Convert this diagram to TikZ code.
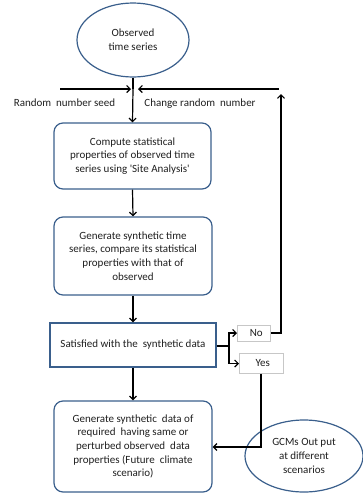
\documentclass[tikz,border=0pt]{standalone}
\usepackage{fontspec}
\setmainfont{Carlito}
\usetikzlibrary{shapes.geometric,arrows.meta}
\definecolor{boxline}{RGB}{58,95,140}
\definecolor{tagline}{gray}{0.78}
\definecolor{txt}{gray}{0.12}
\tikzset{
  txtf/.style={font=\fontsize{11}{13.7}\selectfont,text=txt},
  oval/.style={draw=boxline,ellipse,line width=1.2pt,fill=white,txtf,align=center,inner sep=0pt},
  rbox/.style={draw=boxline,rectangle,rounded corners=9pt,line width=1.2pt,txtf,align=center,inner sep=0pt},
  sbox/.style={draw=boxline,rectangle,line width=1.2pt,txtf,align=center,inner sep=0pt},
  tag/.style={draw=tagline,rectangle,line width=0.6pt,fill=white,txtf,anchor=west,inner sep=0pt},
  flow/.style={draw=black,line width=1.2pt,-{Straight Barb[length=3.5pt,width=7pt,line width=1.2pt]}},
  plain/.style={draw=black,line width=1.2pt},
}
\begin{document}
\begin{tikzpicture}[x=1pt,y=1pt]
  \useasboundingbox (0,0) rectangle (363,-493);
  % nodes
  \node[oval,minimum width=112,minimum height=74] (obs) at (133,-40) {Observed\\time series};
  \node[rbox,minimum width=157,minimum height=66] (stat) at (132.5,-156)
    {Compute statistical\\properties of observed time\\series using \textquotesingle Site Analysis\textquotesingle};
  \node[rbox,minimum width=158,minimum height=78] (gen) at (133,-256)
    {Generate synthetic time\\series, compare its statistical\\properties with that of\\observed};
  \node[sbox,minimum width=166,minimum height=44] (sat) at (133,-345)
    {Satisfied with the\ \ synthetic data};
  \node[rbox,minimum width=158,minimum height=91] (fut) at (133,-446.5)
    {Generate synthetic\ \ data of\\required\ \ having same or\\perturbed observed\ \ data\\properties (Future\ \ climate\\scenario)};
  \node[tag,minimum width=33,minimum height=16] (no) at (237,-333) {\hspace*{5pt}No\hfill};
  \node[tag,minimum width=44,minimum height=20] (yes) at (239,-363.5) {\hspace*{3pt}Yes\hfill};
  \node[oval,minimum width=118,minimum height=72] (gcm) at (304,-456) {GCMs Out put\\at different\\scenarios};
  % labels
  \node[txtf] (seedlab) at (64.5,-103) {Random\ \ number seed};
  \node[txtf] (chglab) at (200,-104) {Change random\ \ number};
  % helper points
  \coordinate (mid) at (133,-89);
  \coordinate (seed) at (60,-89);
  \coordinate (back) at (279,-89);
  \coordinate (up) at (281,-333);
  \coordinate (upend) at (281,-94);
  \coordinate (split) at (229,-346);
  \coordinate (down) at (261,-447);
  % connectors
  \draw[plain] (obs.south) -- (mid);
  \draw[flow] (seed) -- ([xshift=-2pt]mid);
  \draw[flow] (back) -- ([xshift=5pt]mid);
  \draw[flow] (mid) -- (stat.north);
  \draw[flow] (stat.south) -- (gen.north);
  \draw[flow] (gen.south) -- (sat.north);
  \draw[flow] (sat.south) -- (fut.north);
  \draw[plain] (sat.east |- split) -- (split);
  \draw[flow] (split) |- (no.west);
  \draw[flow] (split) |- (yes.west);
  \draw[flow] (no.east) -- (up) -- (upend);
  \draw[flow] (yes.south -| down) -- (down) -- (fut.east |- down);
\end{tikzpicture}
\end{document}
